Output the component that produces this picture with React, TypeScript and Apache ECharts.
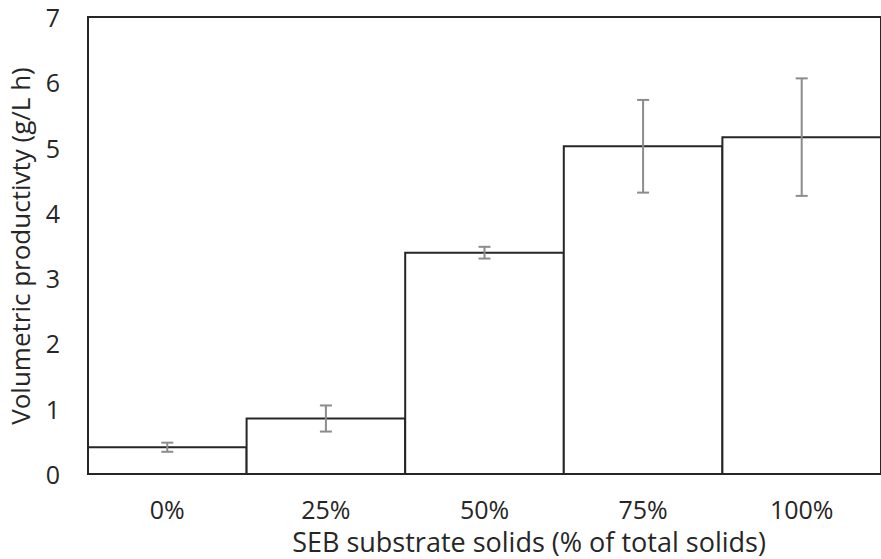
import React, { useEffect, useRef } from "react";
import * as echarts from "echarts";

const categories = ["0%", "25%", "50%", "75%", "100%"];
const values = [0.41, 0.85, 3.39, 5.02, 5.16];
const errors = [0.07, 0.2, 0.09, 0.71, 0.9];
const yTicks = [0, 1, 2, 3, 4, 5, 6, 7];

export default function App() {
  const ref = useRef<HTMLDivElement>(null);
  useEffect(() => {
    const chart = echarts.init(ref.current!, null, { renderer: "svg" });
    const font = "'Open Sans', Lato, sans-serif";
    const textColor = "#262626";
    chart.setOption({
      animation: false,
      grid: {
        left: 88,
        top: 17,
        bottom: 85,
        right: -6,
        show: true,
        borderColor: "#262626",
        borderWidth: 2,
        backgroundColor: "transparent",
      },
      xAxis: {
        type: "category",
        data: categories,
        axisLine: { show: true, lineStyle: { color: "#262626", width: 2 } },
        axisTick: { show: false },
        axisLabel: { color: textColor, fontSize: 25, fontFamily: font, margin: 22 },
      },
      yAxis: {
        type: "value",
        min: yTicks[0],
        max: yTicks[yTicks.length - 1],
        interval: 1,
        axisLine: { show: false },
        axisTick: { show: false },
        splitLine: { show: false },
        axisLabel: { color: textColor, fontSize: 25, fontFamily: font, margin: 28 },
      },
      graphic: [
        {
          type: "text",
          x: 529,
          y: 541,
          style: {
            text: "SEB substrate solids (% of total solids)",
            fill: textColor,
            font: `27px ${font}`,
            textAlign: "center",
            textVerticalAlign: "middle",
          },
        },
        {
          type: "text",
          x: 20,
          y: 246,
          rotation: Math.PI / 2,
          style: {
            text: "Volumetric productivty (g/L h)",
            fill: textColor,
            font: `26px ${font}`,
            textAlign: "center",
            textVerticalAlign: "middle",
          },
        },
      ],
      series: [
        {
          type: "custom",
          data: values.map((v, i) => [i, v]),
          z: 5,
          renderItem: (params: any, api: any) => {
            const top = api.coord([api.value(0), api.value(1)]);
            const base = api.coord([api.value(0), 0]);
            const w = api.size([1, 0])[0];
            return {
              type: "rect",
              shape: { x: top[0] - w / 2, y: top[1], width: w, height: base[1] - top[1] },
              style: { fill: "#ffffff", stroke: "#262626", lineWidth: 2 },
            };
          },
        },
        {
          type: "custom",
          data: values.map((v, i) => [i, v - errors[i], v + errors[i]]),
          z: 10,
          renderItem: (params: any, api: any) => {
            const x = api.value(0);
            const lo = api.coord([x, api.value(1)]);
            const hi = api.coord([x, api.value(2)]);
            const cap = 6;
            const style = { stroke: "#8c8c8c", lineWidth: 2 };
            return {
              type: "group",
              children: [
                { type: "line", shape: { x1: lo[0], y1: lo[1], x2: hi[0], y2: hi[1] }, style },
                { type: "line", shape: { x1: lo[0] - cap, y1: lo[1], x2: lo[0] + cap, y2: lo[1] }, style },
                { type: "line", shape: { x1: hi[0] - cap, y1: hi[1], x2: hi[0] + cap, y2: hi[1] }, style },
              ],
            };
          },
        },
      ],
    });
    return () => chart.dispose();
  }, []);
  return (
    <div
      ref={ref}
      style={{ position: "fixed", left: 0, top: 0, width: 881, height: 559, background: "#fff" }}
    />
  );
}
